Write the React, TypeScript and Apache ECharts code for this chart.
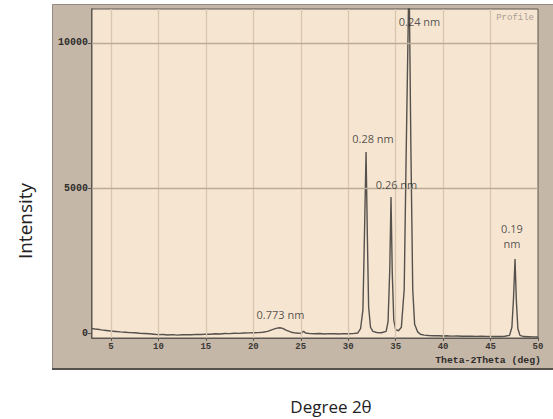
import React, { useEffect, useRef } from "react";
import * as echarts from "echarts";

// 2θ positions (deg) and intensities read from the profile
const theta = [
  3.0, 3.3, 3.6, 4.0, 4.5, 5.0, 5.5, 6.0, 6.5, 7.0, 7.5, 8.0, 8.5, 9.0, 9.5,
  10.0, 10.5, 11.0, 11.5, 12.0, 12.5, 13.0, 13.5, 14.0, 14.5, 15.0, 15.5, 16.0,
  16.5, 17.0, 17.5, 18.0, 18.5, 19.0, 19.5, 20.0, 20.5, 21.0, 21.5, 22.0, 22.5,
  22.8, 23.1, 23.5, 24.0, 24.5, 25.0, 25.3, 25.5, 26.0, 26.5, 27.0, 27.5, 28.0,
  28.5, 29.0, 29.5, 30.0, 30.5, 31.0, 31.3, 31.55, 31.72, 31.88, 32.02, 32.15,
  32.35, 32.6, 33.0, 33.5, 34.0, 34.2, 34.38, 34.51, 34.64, 34.8, 35.0, 35.3,
  35.6, 35.9, 36.1, 36.41, 36.6, 36.8, 37.0, 37.3, 37.6, 38.0, 38.5, 39.0, 39.5,
  40.0, 40.5, 41.0, 41.5, 42.0, 42.5, 43.0, 43.5, 44.0, 44.5, 45.0, 45.5, 46.0,
  46.5, 47.0, 47.25, 47.42, 47.58, 47.72, 47.88, 48.1, 48.5, 49.0, 49.5, 50.0,
];
const intensity = [
  160, 140, 130, 110, 90, 70, 55, 40, 30, 15, 10, -5, -15, -25, -40,
  -55, -50, -65, -55, -70, -60, -55, -60, -45, -50, -35, -40, -25,
  -30, -15, -20, -5, -10, 0, 5, 10, 15, 30, 60, 120, 170,
  185, 160, 90, 30, 0, -10, 60, 0, -20, -25, -15, -30, -20,
  -25, -30, -20, -25, -20, 0, 150, 800, 3500, 6240, 3300, 900,
  200, 60, 20, 10, 60, 400, 2200, 4690, 2100, 450, 120, 80,
  200, 1500, 6000, 12500, 6500, 1500, 300, 50, -40, -70, -85, -90, -95,
  -100, -95, -105, -100, -110, -105, -110, -115, -110, -115, -120, -115, -120,
  -110, -80, 200, 1200, 2550, 1100, 150, -80, -120, -125, -130, -135,
];

// peak annotations (d-spacing) and where they sit in data space
const peakNames = ["0.773 nm", "0.28 nm", "0.26 nm", "0.24 nm", "0.19\nnm"];
const peakLabelTheta = [22.86, 32.61, 35.09, 37.51, 47.26];
const peakLabelIntensity = [657, 6690, 5104, 10723, 3329];

const xTicks = [5, 10, 15, 20, 25, 30, 35, 40, 45, 50];
const yTicks = [0, 5000, 10000];
const xGridValues = [5, 10, 15, 20, 25, 30, 35, 40, 45];
const yGridValues = [5000, 10000];

const monoFont = "'Liberation Mono', 'DejaVu Sans Mono', monospace";
const sansFont = "'Open Sans', 'Noto Sans', sans-serif";

export default function App() {
  const ref = useRef<HTMLDivElement>(null);
  useEffect(() => {
    if (!ref.current) return;
    const chart = echarts.init(ref.current, null, { renderer: "svg" });
    const lineData = theta.map((t, i) => [t, intensity[i]]);
    const labelData = peakNames.map((n, i) => ({
      name: n,
      value: [peakLabelTheta[i], peakLabelIntensity[i]],
    }));
    const gridLines = [
      ...xGridValues.map((v) => ({ xAxis: v, lineStyle: { color: "#d8c6b0", width: 1.3 } })),
      ...yGridValues.map((v) => ({ yAxis: v, lineStyle: { color: "#bcab96", width: 1.3 } })),
    ];
    chart.setOption({
      animation: false,
      textStyle: { fontFamily: sansFont },
      grid: {
        left: 92,
        top: 9,
        right: 15,
        bottom: 81,
        show: true,
        backgroundColor: "#f6e5d1",
        borderColor: "#5a5651",
        borderWidth: 1,
        z: 1,
      },
      graphic: [
        {
          type: "rect",
          z: -10,
          shape: { x: 52.5, y: 4.5, width: 510, height: 364 },
          style: { fill: "#c5b7a8", stroke: "#948a80", lineWidth: 1 },
        },
        {
          type: "line",
          z: -9,
          shape: { x1: 52, y1: 369, x2: 553, y2: 369 },
          style: { stroke: "#55524e", lineWidth: 2 },
        },
        {
          type: "text",
          x: 534,
          y: 18,
          z: 10,
          style: {
            text: "Profile",
            fill: "#a99f95",
            font: `9px ${monoFont}`,
            align: "right",
            verticalAlign: "middle",
          },
        },
        {
          type: "text",
          x: 541,
          y: 360,
          z: 10,
          style: {
            text: "Theta-2Theta (deg)",
            fill: "#2f2d2b",
            font: `bold 9.8px ${monoFont}`,
            align: "right",
            verticalAlign: "middle",
          },
        },
        {
          type: "text",
          x: 25,
          y: 221,
          rotation: Math.PI / 2,
          z: 10,
          style: {
            text: "Intensity",
            fill: "#222",
            font: `19px ${sansFont}`,
            align: "center",
            verticalAlign: "middle",
          },
        },
        {
          type: "text",
          x: 331,
          y: 406,
          z: 10,
          style: {
            text: "Degree 2θ",
            fill: "#222",
            font: `17px ${sansFont}`,
            align: "center",
            verticalAlign: "middle",
          },
        },
      ],
      xAxis: {
        type: "value",
        min: 3,
        max: 50,
        axisLine: { show: true, onZero: false, lineStyle: { color: "#3f3c39", width: 1.5 } },
        axisTick: { show: true, customValues: xTicks, length: 3, lineStyle: { color: "#5a5651" } },
        axisLabel: {
          customValues: xTicks,
          fontFamily: monoFont,
          fontWeight: "bold",
          fontSize: 9,
          color: "#3a3734",
          margin: 4,
        },
        splitLine: { show: false },
      },
      yAxis: {
        type: "value",
        min: -170,
        max: 11170,
        axisLine: { show: true, onZero: false, lineStyle: { color: "#3f3c39", width: 1.5 } },
        axisTick: { show: true, customValues: yTicks, length: 4, lineStyle: { color: "#5a5651" } },
        axisLabel: {
          customValues: yTicks,
          formatter: (v: number) => String(v),
          fontFamily: monoFont,
          fontWeight: "bold",
          fontSize: 10,
          color: "#2f2d2b",
          margin: 4,
        },
        splitLine: { show: false },
      },
      series: [
        {
          type: "line",
          data: [],
          z: 2,
          silent: true,
          markLine: {
            silent: true,
            symbol: ["none", "none"],
            label: { show: false },
            lineStyle: { type: "solid" },
            data: gridLines,
          },
        },
        {
          type: "line",
          data: lineData,
          showSymbol: false,
          symbol: "none",
          lineStyle: { color: "#55514c", width: 1.4 },
          z: 3,
          clip: true,
        },
        {
          type: "scatter",
          data: labelData,
          symbolSize: 0,
          z: 5,
          silent: true,
          label: {
            show: true,
            position: "inside",
            formatter: (p: any) => p.name,
            fontFamily: sansFont,
            fontSize: 11,
            color: "#2b2b2b",
            align: "center",
            verticalAlign: "middle",
            lineHeight: 15,
          },
        },
      ],
    });
    return () => chart.dispose();
  }, []);
  return (
    <div
      ref={ref}
      style={{ position: "fixed", left: 0, top: 0, width: 553, height: 419, background: "#fff" }}
    />
  );
}
